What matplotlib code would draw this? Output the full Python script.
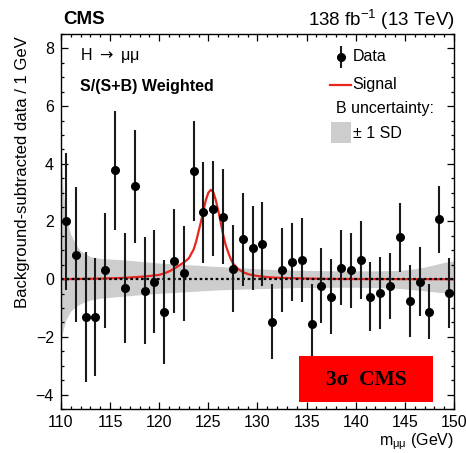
import matplotlib
matplotlib.use("Agg")
import matplotlib.pyplot as plt
from matplotlib.patches import Rectangle
from matplotlib.ticker import MultipleLocator

plt.rcParams['font.family'] = ['Liberation Sans', 'DejaVu Sans']
plt.rcParams['mathtext.fontset'] = 'custom'
plt.rcParams['mathtext.rm'] = 'Liberation Sans'
plt.rcParams['mathtext.it'] = 'Liberation Sans'

# ---- data ----
mass = [110.5, 111.5, 112.5, 113.5, 114.5, 115.5, 116.5, 117.5, 118.5, 119.5,
        120.5, 121.5, 122.5, 123.5, 124.5, 125.5, 126.5, 127.5, 128.5, 129.5,
        130.5, 131.5, 132.5, 133.5, 134.5, 135.5, 136.5, 137.5, 138.5, 139.5,
        140.5, 141.5, 142.5, 143.5, 144.5, 145.5, 146.5, 147.5, 148.5, 149.5]
data_vals = [2.0, 0.85, -1.32, -1.32, 0.31, 3.77, -0.3, 3.22, -0.4, -0.08,
             -1.15, 0.63, 0.21, 3.75, 2.32, 2.45, 2.16, 0.37, 1.38, 1.07,
             1.23, -1.47, 0.33, 0.61, 0.66, -1.55, -0.23, -0.61, 0.40, 0.31,
             0.66, -0.6, -0.48, -0.23, 1.45, -0.77, -0.09, -1.13, 2.07, -0.48]
data_errs = [2.38, 2.35, 2.25, 2.05, 2.0, 2.05, 1.9, 1.95, 1.85, 1.8,
             1.8, 1.8, 1.65, 1.75, 1.75, 1.65, 1.65, 1.5, 1.6, 1.45,
             1.45, 1.3, 1.45, 1.35, 1.45, 1.4, 1.3, 1.3, 1.3, 1.3,
             1.35, 1.2, 1.25, 1.15, 1.2, 1.25, 1.2, 0.95, 1.15, 1.2]

signal_x = [110, 112, 114, 116, 118, 119, 120, 120.5, 121, 121.5, 122, 122.5,
            123, 123.5, 123.75, 124, 124.25, 124.5, 124.75, 125, 125.25, 125.5,
            125.75, 126, 126.25, 126.5, 126.75, 127, 127.25, 127.5, 128, 128.5,
            129, 129.5, 130, 131, 132, 134, 137, 140, 150]
signal_y = [0.0, 0.01, 0.02, 0.04, 0.08, 0.11, 0.15, 0.2, 0.27, 0.36, 0.47, 0.58,
            0.72, 1.03, 1.3, 1.65, 2.0, 2.38, 2.75, 3.0, 3.1, 3.02,
            2.75, 2.38, 1.98, 1.55, 1.2, 0.95, 0.72, 0.55, 0.36, 0.25,
            0.18, 0.14, 0.11, 0.07, 0.05, 0.03, 0.01, 0.005, 0.0]

band_x = [110, 110.2, 110.5, 111, 111.5, 112, 113, 114, 116, 118, 120, 122, 124,
          126, 128, 130, 132, 134, 136, 138, 140, 142, 144, 145, 146, 147, 148,
          149, 150]
band_hi = [4.5, 3.2, 2.1, 1.55, 1.2, 0.98, 0.78, 0.72, 0.68, 0.62, 0.56, 0.52,
           0.48, 0.44, 0.40, 0.36, 0.33, 0.31, 0.30, 0.29, 0.29, 0.29, 0.30,
           0.32, 0.36, 0.42, 0.50, 0.58, 0.64]
band_lo = [-2.2, -1.8, -1.4, -1.1, -0.95, -0.85, -0.72, -0.66, -0.6, -0.54,
           -0.49, -0.45, -0.41, -0.37, -0.35, -0.33, -0.31, -0.29, -0.29, -0.28,
           -0.28, -0.29, -0.31, -0.34, -0.37, -0.40, -0.44, -0.47, -0.48]

x_ticks = [110, 115, 120, 125, 130, 135, 140, 145, 150]
y_ticks = [-4, -2, 0, 2, 4, 6, 8]

# ---- figure ----
fig = plt.figure(figsize=(4.66, 4.53), dpi=100)
ax = fig.add_axes([0.1309, 0.0971, 0.8433, 0.8279])

band_color = '#cdcdcd'
red = '#e8261f'

ax.fill_between(band_x, band_lo, band_hi, color=band_color, lw=0, zorder=1)
ax.plot(signal_x, signal_y, color=red, lw=1.6, zorder=2)
ax.axhline(0, color='black', ls=(0, (1.2, 1.2)), lw=1.6, zorder=3)
ax.errorbar(mass, data_vals, yerr=data_errs, fmt='o', color='black',
            ecolor='#1a1a1a', elinewidth=1.5, markersize=5.5, capsize=0, zorder=4)

ax.set_xlim(110, 150)
ax.set_ylim(-4.5, 8.5)
ax.set_xticks(x_ticks)
ax.set_yticks(y_ticks)
ax.set_yticklabels(['\u22124', '\u22122', '0', '2', '4', '6', '8'])
ax.xaxis.set_minor_locator(MultipleLocator(1))
ax.yaxis.set_minor_locator(MultipleLocator(0.5))
ax.tick_params(which='both', direction='in', top=True, right=True, width=0.9,
               labelsize=11.5)
ax.tick_params(which='major', length=5, pad=5)
ax.tick_params(axis='x', which='major', pad=4)
ax.tick_params(which='minor', length=2.5)
for s in ax.spines.values():
    s.set_linewidth(1.0)

ax.set_xlabel('m$_{\\mathregular{\u03bc\u03bc}}$ (GeV)', fontsize=11.5, loc='right',
              labelpad=0)
ax.xaxis.set_label_coords(1.0, -0.086)
ax.xaxis.label.set_va('center')
ax.set_ylabel('Background-subtracted data / 1 GeV', fontsize=12, loc='top')
ax.yaxis.set_label_coords(-0.078, 0.993)

# header
fig.text(63 / 466, 1 - 20 / 453, 'CMS', fontsize=13.5, fontweight='bold',
         ha='left', va='center')
fig.text(455 / 466, 1 - 20 / 453, r'138 fb$^{\mathregular{-1}}$ (13 TeV)',
         fontsize=13.5, ha='right', va='center')

ax.text(0.048, 0.943, 'H $\\rightarrow$ \u03bc\u03bc', transform=ax.transAxes,
        fontsize=11.5, ha='left', va='center', math_fontfamily='dejavusans')
ax.text(0.048, 0.86, 'S/(S+B) Weighted', transform=ax.transAxes, fontsize=11.5,
        fontweight='bold', ha='left', va='center')

# legend (manual)
lx_text = 0.742
ax.errorbar([0.712], [0.9387], yerr=[0.03], fmt='o', color='black', ecolor='#1a1a1a',
            elinewidth=1.5, markersize=5.5, transform=ax.transAxes, clip_on=False,
            zorder=5)
ax.text(lx_text, 0.9387, 'Data', transform=ax.transAxes, fontsize=11.5,
        ha='left', va='center')
ax.plot([0.685, 0.737], [0.864, 0.864], color=red, lw=1.6, transform=ax.transAxes)
ax.text(lx_text, 0.864, 'Signal', transform=ax.transAxes, fontsize=11.5,
        ha='left', va='center')
ax.text(0.70, 0.800, 'B uncertainty:', transform=ax.transAxes, fontsize=11.5,
        ha='left', va='center')
ax.add_patch(Rectangle((0.687, 0.708), 0.050, 0.056, transform=ax.transAxes,
                       facecolor=band_color, edgecolor='none'))
ax.text(lx_text, 0.735, '\u00b1 1 SD', transform=ax.transAxes, fontsize=11.5,
        ha='left', va='center')

# red box
ax.add_patch(Rectangle((0.6056, 0.0187), 0.341, 0.1226, transform=ax.transAxes,
                       facecolor='#ff0000', edgecolor='none', zorder=10))
ax.text(0.6056 + 0.341 / 2, 0.0187 + 0.1226 / 2 - 0.003, '3\u03c3  CMS',
        transform=ax.transAxes, fontsize=15.5, fontweight='bold',
        family=['Liberation Serif', 'DejaVu Serif'], ha='center', va='center',
        zorder=11)

fig.savefig('out.png', dpi=100)
